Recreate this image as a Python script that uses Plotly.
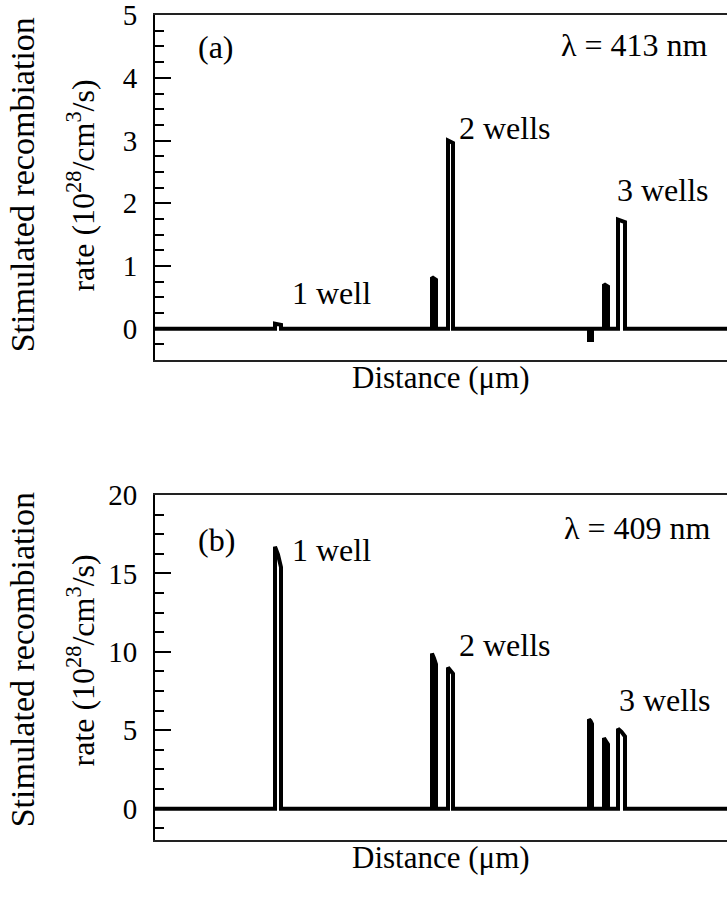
import plotly.graph_objects as go

# Distance positions of well edges (arbitrary μm units) and rate values (10^28/cm^3/s)
well_left = [1.20, 2.77, 2.93, 4.34, 4.49, 4.63]
well_right = [1.26, 2.81, 2.98, 4.37, 4.53, 4.70]

# panel (a) λ = 413 nm : values at left edge, middle, right edge of each well
a_left = [0.08, 0.82, 3.00, -0.18, 0.71, 1.74]
a_mid = [0.07, 0.80, 2.98, -0.18, 0.69, 1.72]
a_right = [0.06, 0.78, 2.96, -0.18, 0.67, 1.70]

# panel (b) λ = 409 nm
b_left = [16.7, 9.9, 9.0, 5.7, 4.5, 5.1]
b_mid = [16.2, 9.6, 8.8, 5.6, 4.3, 4.9]
b_right = [15.4, 9.2, 8.6, 5.4, 4.1, 4.6]

x_range = [0, 5.72]
ya_range = [-0.5, 5.002]
yb_range = [-2, 20.005]
ya_ticks = [0, 1, 2, 3, 4, 5]
yb_ticks = [0, 5, 10, 15, 20]

FONT = "Liberation Serif"


def profile(lefts, mids, rights):
    xs = [-0.2]
    ys = [0]
    for xl, xr, vl, vm, vr in zip(well_left, well_right, lefts, mids, rights):
        xm = (xl + xr) / 2
        xs += [xl, xl, xm, xr, xr]
        ys += [0, vl, vm, vr, 0]
    xs.append(6.0)
    ys.append(0)
    return xs, ys


fig = go.Figure()
xa, ya = profile(a_left, a_mid, a_right)
xb, yb = profile(b_left, b_mid, b_right)
fig.add_trace(go.Scatter(x=xa, y=ya, mode="lines", line=dict(color="black", width=4),
                         xaxis="x", yaxis="y", showlegend=False, cliponaxis=False))
fig.add_trace(go.Scatter(x=xb, y=yb, mode="lines", line=dict(color="black", width=4),
                         xaxis="x2", yaxis="y2", showlegend=False, cliponaxis=False))

xcommon = dict(range=x_range, showticklabels=False, ticks="", showline=True, mirror=True,
               linewidth=2, linecolor="#222", showgrid=False, zeroline=False, fixedrange=True)
ycommon = dict(ticks="inside", ticklen=16, tickwidth=2, tickcolor="black", showline=True,
               linewidth=2, linecolor="black", mirror=False, showgrid=False, zeroline=False,
               tickfont=dict(family=FONT, size=29, color="black"), ticklabelstandoff=10,
               ticklabeloverflow="allow", tickmode="array")

fig.update_layout(
    width=727, height=904,
    margin=dict(l=155, r=0, t=15, b=64),
    paper_bgcolor="white", plot_bgcolor="white",
    xaxis=dict(domain=[0, 1], anchor="y", **xcommon),
    yaxis=dict(domain=[0.5818, 1], anchor="x", range=ya_range, tickvals=ya_ticks,
               minor=dict(dtick=0.25, tick0=0, ticklen=9, tickwidth=2, ticks="inside", tickcolor="black"),
               **ycommon),
    xaxis2=dict(domain=[0, 1], anchor="y2", **xcommon),
    yaxis2=dict(domain=[0, 0.41818], anchor="x2", range=yb_range, tickvals=yb_ticks,
                minor=dict(dtick=1.25, tick0=0, ticklen=9, tickwidth=2, ticks="inside", tickcolor="black"),
                **ycommon),
)

tf = dict(family=FONT, size=32, color="black")
tf_y = dict(family=FONT, size=34, color="black")
tf_x = dict(family=FONT, size=31, color="black")
ann = []
# y titles
for yc in [0.7935, 0.2178]:
    ann.append(dict(text="Stimulated recombiation", xref="paper", yref="paper", x=-0.2325, y=yc,
                    textangle=-90, showarrow=False, font=tf_y, xanchor="center", yanchor="middle"))
    ann.append(dict(text="rate (10<sup>28</sup>/cm<sup>3</sup>/s)", xref="paper", yref="paper", x=-0.1290, y=yc,
                    textangle=-90, showarrow=False, font=tf, xanchor="center", yanchor="middle"))
# x titles
for yc in [0.5612, -0.0218]:
    ann.append(dict(text="Distance (μm)", xref="paper", yref="paper", x=0.5, y=yc, showarrow=False,
                    font=tf_x, xanchor="center", yanchor="middle"))

labels_a = [("(a)", 0.107, 0.907, "center"), ("λ = 413 nm", 0.9703, 0.913, "right"),
            ("1 well", 0.236, 0.194, "left"), ("2 wells", 0.528, 0.672, "left"),
            ("3 wells", 0.804, 0.493, "left")]
labels_b = [("(b)", 0.107, 0.870, "center"), ("λ = 409 nm", 0.9755, 0.904, "right"),
            ("1 well", 0.236, 0.841, "left"), ("2 wells", 0.528, 0.565, "left"),
            ("3 wells", 0.8077, 0.406, "left")]
for labels, xr, yr in [(labels_a, "x domain", "y domain"), (labels_b, "x2 domain", "y2 domain")]:
    for t, x, y, anc in labels:
        ann.append(dict(text=t, xref=xr, yref=yr, x=x, y=y, showarrow=False, font=tf,
                        xanchor=anc, yanchor="middle"))

fig.update_layout(annotations=ann)
fig.write_html("out.html")
